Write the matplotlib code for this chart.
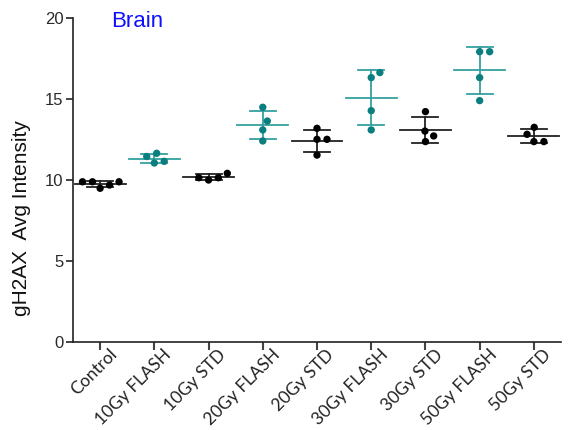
import numpy as np
import matplotlib
matplotlib.use("Agg")
import matplotlib.pyplot as plt
from matplotlib.transforms import ScaledTranslation

# Group names, in plotting order
groups = ["Control", "10Gy FLASH", "10Gy STD", "20Gy FLASH", "20Gy STD",
          "30Gy FLASH", "30Gy STD", "50Gy FLASH", "50Gy STD"]

# gH2AX average intensity per sample
control = [9.89, 9.89, 9.49, 9.69, 9.89]
flash_10 = [11.15, 11.65, 11.05, 11.45]
std_10 = [10.14, 10.00, 10.14, 10.41]
flash_20 = [14.49, 13.64, 13.09, 12.41]
std_20 = [13.19, 12.51, 12.51, 11.54]
flash_30 = [16.63, 16.32, 14.28, 13.09]
std_30 = [14.22, 13.02, 12.72, 12.37]
flash_50 = [17.92, 17.92, 16.32, 14.90]
std_50 = [13.25, 12.82, 12.37, 12.37]

values = [control, flash_10, std_10, flash_20, std_20,
          flash_30, std_30, flash_50, std_50]

y_ticks = [0, 5, 10, 15, 20]

TEAL_PT = "#0a7f7f"
TEAL_LN = "#35a0a0"
BLACK = "#000000"

W, H, DPI = 569, 430, 100
fig = plt.figure(figsize=(W / DPI, H / DPI), dpi=DPI)
ax = fig.add_axes([73 / W, 1 - 342 / H, (561 - 73) / W, (342 - 18) / H])

xmin, xmax, ymin, ymax = -0.5, 8.5, 0, 20
ax.set_xlim(xmin, xmax)
ax.set_ylim(ymin, ymax)

# pixels per data unit, used to lay out the scatter without overlaps
px_x = (561 - 73) / (xmax - xmin)
px_y = (342 - 18) / (ymax - ymin)


def swarm(vals, diam=10.0):
    """Beeswarm offsets (in data units) so markers do not overlap."""
    order = np.argsort(vals, kind="stable")
    placed = []  # (x_px, y_px)
    offsets = np.zeros(len(vals))
    for i in order:
        y = vals[i] * px_y
        cands = [0.0]
        for (xp, yp) in placed:
            dy = abs(y - yp)
            if dy < diam:
                dx = np.sqrt(diam ** 2 - dy ** 2)
                cands += [xp + dx, xp - dx]
        cands.sort(key=lambda c: (abs(c), -c))
        for c in cands:
            if all((c - xp) ** 2 + (y - yp) ** 2 >= diam ** 2 - 1e-6
                   for (xp, yp) in placed):
                break
        placed.append((c, y))
        offsets[i] = c / px_x
    return offsets


for i, (name, vals) in enumerate(zip(groups, values)):
    vals = np.asarray(vals, dtype=float)
    flash = "FLASH" in name
    pc = TEAL_PT if flash else BLACK
    lc = TEAL_LN if flash else "#222222"
    m = vals.mean()
    sd = vals.std(ddof=1)
    # mean line
    ax.plot([i - 0.47, i + 0.47], [m, m], color=lc, lw=1.3, zorder=2)
    # SD error bar with caps
    ax.plot([i, i], [m - sd, m + sd], color=lc, lw=1.3, zorder=2)
    for yv in (m - sd, m + sd):
        ax.plot([i - 0.24, i + 0.24], [yv, yv], color=lc, lw=1.3, zorder=2)
    ax.scatter(i + swarm(vals), vals, s=28, color=pc, edgecolors="none", zorder=3)

ax.spines["top"].set_visible(False)
ax.spines["right"].set_visible(False)
for s in ("left", "bottom"):
    ax.spines[s].set_linewidth(1.2)
    ax.spines[s].set_color("#222222")

ax.set_yticks(y_ticks)
ax.set_yticklabels([str(t) for t in y_ticks], fontfamily="Liberation Sans",
                   fontsize=12, color="#2a2a2a")
ax.tick_params(axis="y", length=5, width=1.2, color="#222222", pad=2)

ax.set_xticks(range(len(groups)))
ax.set_xticklabels(groups, rotation=45, ha="right", va="top",
                   rotation_mode="anchor", fontfamily="Lato", fontsize=12.5,
                   color="#222222")
ax.tick_params(axis="x", length=6, width=1.5, color="#444444", pad=0)
shift = ScaledTranslation(9 / DPI, 4 / DPI, fig.dpi_scale_trans)
for lab in ax.get_xticklabels():
    lab.set_transform(lab.get_transform() + shift)

fig.text(22 / W, 1 - 218 / H, "gH2AX  Avg Intensity", rotation=90,
         ha="center", va="center", fontfamily="Liberation Sans", fontsize=15,
         color="#111111")
fig.text(111 / W, 1 - 27 / H, "Brain", ha="left", va="baseline",
         fontfamily="Liberation Sans", fontsize=16, color="#1010ff")

fig.savefig("out.png", dpi=DPI)
